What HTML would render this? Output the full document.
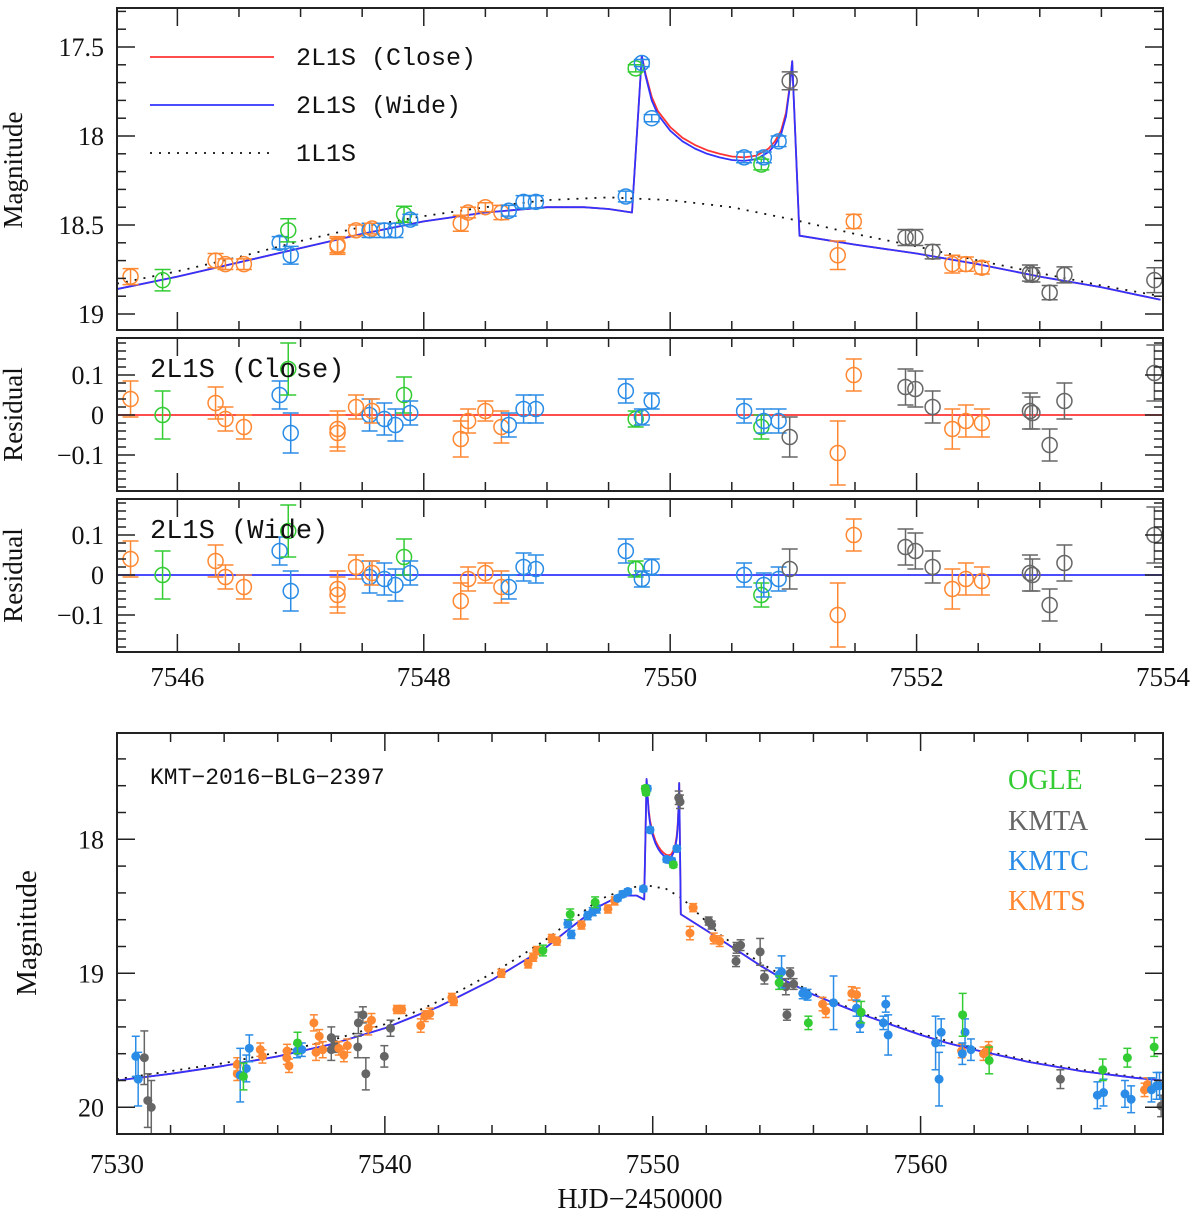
<!DOCTYPE html>
<html><head><meta charset="utf-8"><style>
html,body{margin:0;padding:0;background:#fff;}
svg{display:block;font-family:"Liberation Serif",serif;}
</style></head><body>
<svg id="chart" width="1200" height="1217" viewBox="0 0 1200 1217"></svg>
<script>
// ---------- top zoom panel data ----------
const topT   = [7545.62,7545.88,7546.31,7546.39,7546.54,7546.83,7546.90,7546.92,7547.30,7547.30,7547.45,7547.56,7547.58,7547.68,7547.77,7547.84,7547.89,7548.30,7548.36,7548.50,7548.63,7548.69,7548.81,7548.91,7549.64,7549.72,7549.77,7549.85,7550.60,7550.74,7550.76,7550.88,7550.97,7551.36,7551.49,7551.91,7551.99,7552.13,7552.29,7552.40,7552.53,7552.92,7552.94,7553.08,7553.20,7553.93];
const topObs = ["S","O","S","S","S","C","O","C","S","S","S","C","S","C","C","O","C","S","S","S","S","C","C","C","C","O","C","C","C","O","C","C","A","S","S","A","A","A","S","S","S","A","A","A","A","A"];
const topMag = [18.79,18.81,18.70,18.72,18.72,18.60,18.53,18.67,18.61,18.62,18.53,18.53,18.52,18.53,18.53,18.44,18.47,18.49,18.43,18.40,18.43,18.42,18.37,18.37,18.34,17.62,17.59,17.90,18.12,18.16,18.12,18.03,17.69,18.67,18.48,18.57,18.57,18.65,18.72,18.72,18.74,18.77,18.78,18.88,18.78,18.81];
const topErr = [0.045,0.06,0.04,0.03,0.03,0.035,0.065,0.05,0.045,0.045,0.03,0.04,0.03,0.04,0.04,0.045,0.03,0.045,0.03,0.025,0.04,0.03,0.035,0.035,0.03,0.02,0.02,0.02,0.03,0.03,0.03,0.03,0.05,0.08,0.04,0.045,0.045,0.04,0.05,0.04,0.035,0.045,0.04,0.04,0.045,0.07];
const resClose = [0.04,0.0,0.03,-0.01,-0.03,0.05,0.115,-0.045,-0.035,-0.045,0.02,0.0,0.01,-0.01,-0.025,0.05,0.005,-0.06,-0.015,0.01,-0.03,-0.025,0.015,0.015,0.06,-0.01,-0.005,0.035,0.01,-0.03,-0.015,-0.015,-0.055,-0.095,0.10,0.07,0.065,0.02,-0.035,-0.015,-0.02,0.01,0.005,-0.075,0.035,0.105];
const resWide  = [0.04,0.0,0.035,-0.005,-0.03,0.06,0.11,-0.04,-0.035,-0.05,0.02,-0.005,0.005,-0.01,-0.025,0.045,0.005,-0.065,-0.01,0.005,-0.03,-0.03,0.02,0.015,0.06,0.015,-0.01,0.02,0.0,-0.05,-0.025,-0.01,0.015,-0.1,0.10,0.07,0.06,0.02,-0.035,-0.01,-0.015,0.005,0.0,-0.075,0.03,0.10];
// model curves
const closeT = [7545.51,7546.0,7546.5,7547.0,7547.5,7548.0,7548.5,7549.0,7549.3,7549.5,7549.69,7549.77,7549.80,7549.85,7549.90,7550.0,7550.1,7550.2,7550.3,7550.4,7550.5,7550.6,7550.7,7550.8,7550.85,7550.9,7550.94,7550.97,7550.99,7551.05,7551.5,7552.0,7552.5,7553.0,7553.5,7553.98];
const closeM = [18.86,18.79,18.71,18.63,18.55,18.48,18.43,18.40,18.40,18.41,18.43,17.55,17.65,17.78,17.86,17.95,18.01,18.05,18.08,18.10,18.115,18.12,18.11,18.07,18.03,17.97,17.87,17.72,17.58,18.56,18.61,18.66,18.72,18.79,18.85,18.92];
const wideM  = [18.86,18.79,18.71,18.63,18.55,18.48,18.43,18.40,18.40,18.41,18.43,17.55,17.66,17.80,17.88,17.97,18.03,18.07,18.10,18.12,18.135,18.14,18.13,18.09,18.05,17.99,17.89,17.73,17.58,18.56,18.61,18.66,18.72,18.79,18.85,18.92];
const psplT = [7545.51,7546.0,7546.5,7547.0,7547.5,7548.0,7548.5,7549.0,7549.5,7550.0,7550.5,7551.0,7551.5,7552.0,7552.5,7553.0,7553.5,7553.98];
const psplM = [18.83,18.76,18.68,18.59,18.51,18.45,18.40,18.36,18.345,18.36,18.40,18.47,18.55,18.62,18.70,18.77,18.84,18.90];

// ---------- bottom full panel data ----------
const ogleT = [7534.72,7536.74,7545.90,7546.92,7547.85,7549.72,7549.75,7550.77,7554.72,7555.81,7557.78,7561.57,7562.56,7566.80,7567.72,7568.72];
const ogleM = [19.77,19.52,18.83,18.56,18.47,17.62,17.65,18.19,19.07,19.37,19.29,19.31,19.65,19.72,19.63,19.55];
const ogleE = [0.1,0.08,0.04,0.04,0.04,0.02,0.02,0.02,0.05,0.05,0.08,0.16,0.1,0.08,0.07,0.07];
const kmtaT = [7531.02,7531.15,7531.28,7538.00,7538.00,7538.15,7538.99,7539.01,7539.18,7539.29,7539.98,7540.21,7550.97,7551.02,7552.09,7552.20,7553.13,7553.28,7553.11,7554.01,7554.17,7555.13,7554.97,7555.26,7555.01,7565.22,7568.98];
const kmtaM = [19.63,19.95,20.00,19.48,19.57,19.53,19.55,19.37,19.31,19.75,19.62,19.41,17.69,17.72,18.61,18.64,18.81,18.79,18.91,18.84,19.03,19.00,19.10,19.08,19.31,19.79,19.99];
const kmtaE = [0.2,0.2,0.2,0.08,0.08,0.06,0.08,0.08,0.06,0.12,0.08,0.06,0.05,0.05,0.03,0.03,0.04,0.04,0.04,0.1,0.05,0.04,0.06,0.04,0.04,0.07,0.08];
const kmtcT = [7530.70,7530.79,7534.60,7534.83,7534.94,7536.72,7536.90,7546.83,7546.96,7547.57,7547.76,7547.91,7548.69,7548.88,7549.07,7549.65,7549.80,7549.90,7550.52,7550.71,7550.90,7554.72,7554.81,7555.60,7555.78,7556.75,7557.61,7557.74,7558.61,7558.70,7558.79,7560.56,7560.77,7560.69,7561.66,7561.56,7561.88,7566.60,7566.83,7567.63,7567.86,7568.62,7568.81,7568.92];
const kmtcM = [19.62,19.79,19.76,19.71,19.56,19.58,19.57,18.63,18.71,18.57,18.54,18.52,18.44,18.41,18.39,18.37,17.62,17.93,18.15,18.16,18.07,19.01,18.99,19.15,19.16,19.22,19.26,19.38,19.37,19.23,19.46,19.52,19.44,19.79,19.44,19.60,19.57,19.91,19.89,19.90,19.94,19.87,19.84,19.84];
const kmtcE = [0.15,0.2,0.2,0.1,0.1,0.05,0.05,0.03,0.03,0.03,0.03,0.03,0.02,0.02,0.02,0.02,0.02,0.02,0.02,0.02,0.02,0.05,0.12,0.04,0.04,0.2,0.06,0.06,0.05,0.06,0.15,0.2,0.1,0.2,0.1,0.08,0.08,0.1,0.1,0.1,0.1,0.09,0.1,0.1];
const kmtsT = [7534.49,7534.49,7535.35,7535.43,7536.35,7536.42,7536.34,7537.35,7537.55,7537.43,7537.68,7538.28,7538.47,7538.60,7539.38,7539.50,7540.45,7540.63,7541.34,7541.49,7541.68,7542.50,7542.57,7544.35,7545.35,7545.54,7545.67,7546.23,7546.42,7547.34,7548.33,7548.58,7551.51,7551.39,7552.28,7552.50,7556.46,7556.34,7557.43,7557.61,7561.53,7562.35,7562.54,7568.47,7568.36];
const kmtsM = [19.68,19.75,19.57,19.62,19.58,19.69,19.63,19.37,19.47,19.59,19.57,19.56,19.61,19.54,19.41,19.35,19.27,19.27,19.39,19.32,19.30,19.18,19.21,19.00,18.93,18.88,18.83,18.74,18.76,18.64,18.52,18.46,18.51,18.70,18.74,18.76,19.28,19.23,19.15,19.16,19.58,19.60,19.56,19.83,19.87];
const kmtsE = [0.05,0.05,0.05,0.05,0.05,0.05,0.05,0.06,0.05,0.06,0.06,0.05,0.05,0.05,0.05,0.05,0.03,0.03,0.05,0.04,0.04,0.03,0.03,0.03,0.03,0.03,0.03,0.03,0.03,0.03,0.03,0.03,0.03,0.05,0.04,0.04,0.05,0.05,0.05,0.05,0.05,0.05,0.05,0.05,0.05];
const fullT = [7530.0,7532,7534,7536,7538,7540,7541,7542,7543,7544,7545,7546,7547,7547.46,7548,7548.5,7549,7549.4,7549.68,7549.77,7549.80,7549.85,7549.90,7550.0,7550.1,7550.2,7550.3,7550.4,7550.5,7550.6,7550.7,7550.8,7550.85,7550.9,7550.94,7550.97,7550.99,7551.05,7552,7553,7554,7555,7556,7557,7558,7559,7560,7561,7562,7564,7566,7568,7569.05];
const fullCloseM = [19.80,19.75,19.69,19.62,19.53,19.41,19.33,19.25,19.15,19.05,18.93,18.81,18.65,18.58,18.50,18.45,18.42,18.42,18.45,17.55,17.65,17.78,17.86,17.95,18.01,18.05,18.08,18.10,18.115,18.12,18.11,18.07,18.03,17.97,17.87,17.72,17.58,18.56,18.68,18.81,18.94,19.06,19.16,19.24,19.32,19.39,19.46,19.52,19.57,19.66,19.73,19.78,19.80];
const fullWideM  = [19.80,19.75,19.69,19.62,19.53,19.41,19.33,19.25,19.15,19.05,18.93,18.81,18.65,18.58,18.50,18.45,18.42,18.42,18.45,17.55,17.66,17.80,17.88,17.97,18.03,18.07,18.10,18.12,18.135,18.14,18.13,18.09,18.05,17.99,17.89,17.73,17.58,18.56,18.68,18.81,18.94,19.06,19.16,19.24,19.32,19.39,19.46,19.52,19.57,19.66,19.73,19.78,19.80];
const fullPsplT = [7530.0,7532,7534,7536,7538,7540,7541,7542,7543,7544,7545,7546,7547,7548,7549.0,7549.7,7550.5,7551.1,7552.5,7554,7556,7558,7560,7562,7564,7566,7569.03];
const fullPsplM = [19.79,19.73,19.67,19.59,19.50,19.38,19.30,19.21,19.11,19.00,18.88,18.75,18.60,18.45,18.37,18.34,18.37,18.44,18.71,18.92,19.15,19.31,19.45,19.56,19.65,19.72,19.80];

const tickTop = ["7546","7548","7550","7552","7554"];
const tickBot = ["7530","7540","7550","7560"];

const COL = {O:"#33cc33", A:"#666666", C:"#2a8ce6", S:"#ff8833"};
const NS = "http://www.w3.org/2000/svg";
const svg = document.getElementById('chart');
function el(tag, attrs, parent){const e=document.createElementNS(NS,tag);for(const k in attrs)e.setAttribute(k,attrs[k]);(parent||svg).appendChild(e);return e;}

// scales
const L=117, R=1163;
const xTop = t => L + (t-7545.51)/(7554.0-7545.51)*(R-L);
const yTop = m => 47 + (m-17.5)*178;
const yRes1 = r => 415 - r*400;
const yRes2 = r => 575 - r*400;
const xBot = t => L + (t-7530)/(7569.05-7530)*(R-L);
const yBot = m => 839.3 + (m-18)*134;

function frame(name, y0, y1){
  const r = el('rect',{x:L,y:y0,width:R-L,height:y1-y0,fill:'none',stroke:'#222','stroke-width':2});
  
  
}
function xTicks(xs, lo, hi, minorStep, majorStep, y0, y1, labels, labelY, name){
  const g = el('g',{});
  
  
  const n = Math.round((hi-lo)/minorStep);
  for(let i=0;i<=n;i++){
    const v = lo + i*minorStep;
    const x = xs(v);
    if(x<L-0.5||x>R+0.5) continue;
    const maj = Math.abs(v/majorStep - Math.round(v/majorStep))<1e-6;
    const len = maj?18:9;
    el('line',{x1:x,x2:x,y1:y1,y2:y1-len,stroke:'#222','stroke-width':1.5},g);
    el('line',{x1:x,x2:x,y1:y0,y2:y0+len,stroke:'#222','stroke-width':1.5},g);
  }
  if(labels){
    labels.forEach(s=>{
      const tx = el('text',{x:xs(+s),y:labelY,'text-anchor':'middle','font-size':27,fill:'#111'},g);
      tx.textContent = s;
      
      
    });
  }
}
function yTicks(ys, lo, hi, minorStep, majorStep, y0, y1, labels, name){
  const g = el('g',{});
  
  
  const n = Math.round((hi-lo)/minorStep);
  for(let i=0;i<=n;i++){
    const v = lo + i*minorStep;
    const y = ys(v);
    if(y<y0-0.5||y>y1+0.5) continue;
    const maj = Math.abs(v/majorStep - Math.round(v/majorStep))<1e-6;
    const len = maj?18:9;
    el('line',{x1:L,x2:L+len,y1:y,y2:y,stroke:'#222','stroke-width':1.5},g);
    el('line',{x1:R,x2:R-len,y1:y,y2:y,stroke:'#222','stroke-width':1.5},g);
  }
  labels.forEach(s=>{
    const tx = el('text',{x:104,y:ys(+s.replace('−','-'))+9,'text-anchor':'end','font-size':26,fill:'#111'},g);
    tx.textContent = s;
    
    
  });
}
function ytitle(txt, cx, cy, name, fs){
  const t = el('text',{x:cx,y:cy,'text-anchor':'middle','font-size':fs||27,fill:'#111',transform:`rotate(-90 ${cx} ${cy})`});
  t.textContent = txt;
  
  
}
function polyline(ts, ms, xs, ys, attrs, name, parent){
  const pts = ts.map((t,i)=>xs(t).toFixed(1)+','+ys(ms[i]).toFixed(1)).join(' ');
  const p = el('polyline',Object.assign({points:pts,fill:'none','stroke-linejoin':'round'},attrs),parent);
  
  
}
function clip(id,y0,y1){
  const d = el('defs',{});
  const c = el('clipPath',{id:id},d);
  el('rect',{x:L,y:y0,width:R-L,height:y1-y0},c);
}
clip('cTop',8,330); clip('cR1',338,491); clip('cR2',499,652); clip('cBot',733,1134);

// ===== TOP PANEL =====
const gTop = el('g',{'clip-path':'url(#cTop)'});


polyline(psplT,psplM,xTop,yTop,{stroke:'#111','stroke-width':1.8,'stroke-dasharray':'2,7'},'1l1s-model-line',gTop);
polyline(closeT,closeM,xTop,yTop,{stroke:'#ff3333','stroke-width':1.8},'2l1s-close-model-line',gTop);
polyline(closeT,wideM,xTop,yTop,{stroke:'#3333ff','stroke-width':1.8},'2l1s-wide-model-line',gTop);
function openPoint(g, x, y, ey, c){
  const gg = el('g',{stroke:c,'stroke-width':1.5,fill:'none'},g);
  
  
  el('line',{x1:x,x2:x,y1:y-ey,y2:y+ey},gg);
  el('line',{x1:x-8,x2:x+8,y1:y-ey,y2:y-ey},gg);
  el('line',{x1:x-8,x2:x+8,y1:y+ey,y2:y+ey},gg);
  el('circle',{cx:x,cy:y,r:7.5,fill:'#fff','fill-opacity':0},gg);
}
topT.forEach((t,i)=>{
  openPoint(gTop, xTop(t), yTop(topMag[i]), topErr[i]*178, COL[topObs[i]]);
});
frame('top-panel-frame',8,330);
xTicks(xTop,7545.5,7554,0.5,2,8,330,null,0,'top-x-ticks');
yTicks(yTop,17.3,19.1,0.1,0.5,8,330,["17.5","18","18.5","19"],'top-y-axis');
ytitle('Magnitude',22,170,'top-y-axis-title');
// legend
const lg = el('g',{});


el('line',{x1:150,x2:274,y1:57,y2:57,stroke:'#ff3333','stroke-width':1.8},lg);
el('line',{x1:150,x2:274,y1:105,y2:105,stroke:'#3333ff','stroke-width':1.8},lg);
el('line',{x1:150,x2:274,y1:153,y2:153,stroke:'#111','stroke-width':1.8,'stroke-dasharray':'2,7'},lg);
[['2L1S (Close)',65],['2L1S (Wide)',113],['1L1S',161]].forEach(([s,y])=>{
  const t=el('text',{x:296,y:y,'font-size':25,fill:'#111','font-family':'Liberation Mono, monospace'},lg);
  t.textContent=s;
  
  
});

// ===== RESIDUAL PANELS =====
function resPanel(vals, ys, y0, y1, clipId, color, label, nm){
  const g = el('g',{'clip-path':`url(#${clipId})`});
  
  
  const zl = el('line',{x1:L,x2:R,y1:ys(0),y2:ys(0),stroke:color,'stroke-width':1.8},g);
  
  
  topT.forEach((t,i)=>{ openPoint(g, xTop(t), ys(vals[i]), topErr[i]*400, COL[topObs[i]]); });
  frame(nm+'-frame',y0,y1);
  xTicks(xTop,7545.5,7554,0.5,2,y0,y1,null,0,nm+'-x-ticks');
  yTicks(ys,-0.18,0.18,0.02,0.1,y0,y1,["0.1","0","−0.1"],nm+'-y-axis');
  ytitle('Residual',22,(y0+y1)/2,nm+'-y-axis-title');
  const tl = el('text',{x:150,y:y0+39,'font-size':27,fill:'#111','font-family':'Liberation Mono, monospace'});
  tl.textContent = label;
  
  
}
resPanel(resClose,yRes1,338,491,'cR1','#ff3333','2L1S (Close)','close-residual-panel');
resPanel(resWide,yRes2,499,652,'cR2','#3333ff','2L1S (Wide)','wide-residual-panel');
(function(){
  const g = el('g',{});
  
  
  tickTop.forEach(s=>{
    const t=el('text',{x:Math.min(xTop(+s),1168),y:686,'text-anchor':'middle','font-size':27,fill:'#111'},g);
    t.textContent=s;
    
    
  });
})();

// ===== BOTTOM PANEL =====
const gBot = el('g',{'clip-path':'url(#cBot)'});


polyline(fullPsplT,fullPsplM,xBot,yBot,{stroke:'#111','stroke-width':1.8,'stroke-dasharray':'2,6'},'full-1l1s-model-line',gBot);
polyline(fullT,fullCloseM,xBot,yBot,{stroke:'#ff3333','stroke-width':1.8},'full-close-model-line',gBot);
polyline(fullT,fullWideM,xBot,yBot,{stroke:'#3333ff','stroke-width':1.8},'full-wide-model-line',gBot);
function series(ts, ms, es, c, nm){
  const g = el('g',{stroke:c,fill:c,'stroke-width':1.5},gBot);
  
  
  ts.forEach((t,i)=>{
    const x=xBot(t), y=yBot(ms[i]), ey=es[i]*134;
    const p = el('g',{},g);
    
    
    el('line',{x1:x,x2:x,y1:y-ey,y2:y+ey},p);
    el('line',{x1:x-4,x2:x+4,y1:y-ey,y2:y-ey},p);
    el('line',{x1:x-4,x2:x+4,y1:y+ey,y2:y+ey},p);
    el('circle',{cx:x,cy:y,r:4.5,stroke:'none'},p);
  });
}
series(kmtaT,kmtaM,kmtaE,COL.A,'kmta-series');
series(kmtsT,kmtsM,kmtsE,COL.S,'kmts-series');
series(kmtcT,kmtcM,kmtcE,COL.C,'kmtc-series');
series(ogleT,ogleM,ogleE,COL.O,'ogle-series');
frame('bottom-panel-frame',733,1134);
xTicks(xBot,7530,7570,2,10,733,1134,tickBot,1173,'bottom-x-axis');
yTicks(yBot,17.2,20.2,0.2,1,733,1134,["18","19","20"],'bottom-y-axis');
ytitle('Magnitude',36,933,'bottom-y-axis-title',29);
const xt = el('text',{x:640,y:1208,'text-anchor':'middle','font-size':28,fill:'#111'});
xt.textContent='HJD−2450000';


const et = el('text',{x:150,y:784,'font-size':23,fill:'#111','font-family':'Liberation Mono, monospace'});
et.textContent='KMT−2016−BLG−2397';


const lg2 = el('g',{});


[['OGLE',COL.O,789],['KMTA',COL.A,830],['KMTC',COL.C,870],['KMTS',COL.S,910]].forEach(([s,c,y])=>{
  const t=el('text',{x:1008,y:y,'font-size':28,fill:c},lg2);
  t.textContent=s;
  
  
});
</script>
</body></html>
